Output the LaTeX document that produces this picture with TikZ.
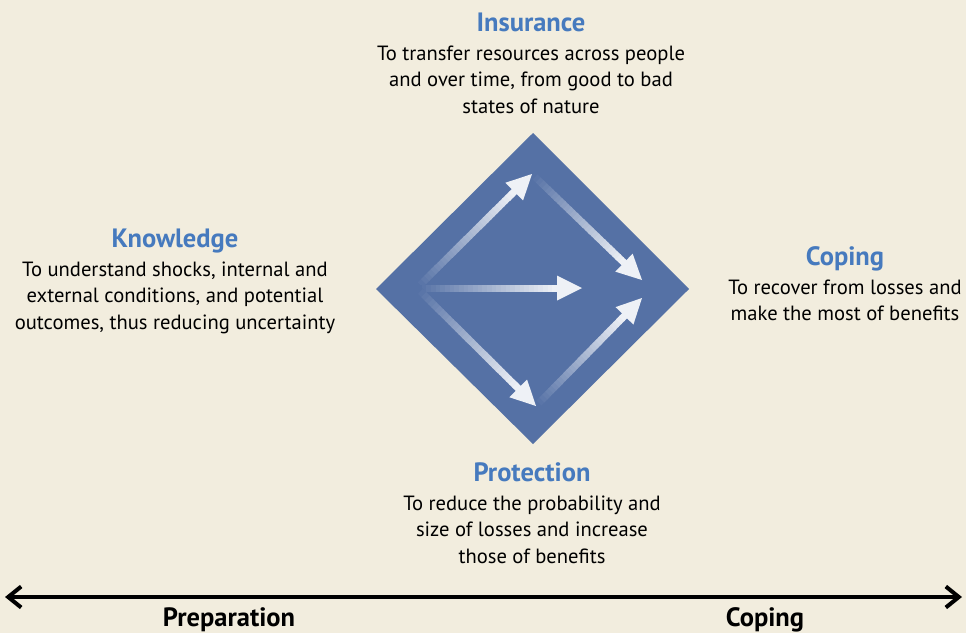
\documentclass[tikz,border=0pt]{standalone}
\usepackage{fontspec}
\setmainfont{PT Sans}
\usetikzlibrary{positioning, calc, arrows.meta}
\definecolor{paper}{RGB}{242,237,222}
\definecolor{diamondblue}{RGB}{85,113,165}
\definecolor{headblue}{RGB}{70,122,190}
\tikzset{>={Straight Barb[length=13pt, width=21pt]}}
\tikzset{
	head/.style={font=\fontsize{26.5}{28}\selectfont\bfseries, text=headblue, inner sep=0pt, text height=19pt, text depth=6pt},
	body/.style={font=\fontsize{20.6}{26.5}\selectfont, align=center, inner sep=0pt},
	phase/.style={font=\fontsize{26.5}{28}\selectfont\bfseries, inner sep=0pt},
}
% shaded arrow from #1 to #2, fading in from the diamond colour
\newcommand{\glowarrow}[2]{
	\coordinate (#2-base) at ($(#2)!25pt!(#1)$);
	\foreach \i [evaluate=\i as \p using 90*\i/29] in {0,...,29}
		\draw[line width=7pt, white!\p!diamondblue] ($(#1)!\i/30!(#2-base)$) -- ($(#1)!{(\i+1.3)/30}!(#2-base)$);
	\fill[white!90!diamondblue] (#2) -- ($(#2-base)!12.5pt!90:(#2)$) -- ($(#2-base)!12.5pt!-90:(#2)$) -- cycle;
}

\begin{document}
\begin{tikzpicture}[x=1pt, y=-1pt]
	\useasboundingbox (0,0) rectangle (966,633);
	\fill[paper] (0,0) rectangle (966,633);

	% diamond
	\coordinate (W) at (376,289);
	\coordinate (N) at (533,133);
	\coordinate (E) at (689,289);
	\coordinate (S) at (533,444);
	\fill[diamondblue] (W) -- (N) -- (E) -- (S) -- cycle;

	% arrows inside
	\coordinate (hub) at (417,288);
	\coordinate (up) at (532,174);
	\coordinate (low) at (536,406);
	\coordinate (mid) at (582,288);
	\coordinate (rightUp) at (642,280);
	\coordinate (rightLow) at (642,298);
	\glowarrow{up}{rightUp}
	\glowarrow{low}{rightLow}
	\glowarrow{hub}{up}
	\glowarrow{hub}{mid}
	\glowarrow{hub}{low}

	% texts
	\node[head] (insurance) at (531,25) {Insurance};
	\node[body, below=8pt of insurance] (insuranceText) {To transfer resources across people\\and over time, from good to bad\\states of nature};
	\node[head] (knowledge) at (175,241) {Knowledge};
	\node[body, below=8pt of knowledge] (knowledgeText) {To understand shocks, internal and\\external conditions, and potential\\outcomes, thus reducing uncertainty};
	\node[head] (coping) at (845,259) {Coping};
	\node[body, below=8pt of coping] (copingText) {To recover from losses and\\make the most of benefits};
	\node[head] (protection) at (532,475) {Protection};
	\node[body, below=8pt of protection] (protectionText) {To reduce the probability and\\size of losses and increase\\those of benefits};

	% time axis
	\coordinate (past) at (5,597);
	\coordinate (future) at (962,597);
	\draw[<->, line width=4pt] (past) -- (future);
	\node[phase] (preparation) at (229,619.5) {Preparation};
	\node[phase] (copingPhase) at (765,619.5) {Coping};
\end{tikzpicture}
\end{document}
